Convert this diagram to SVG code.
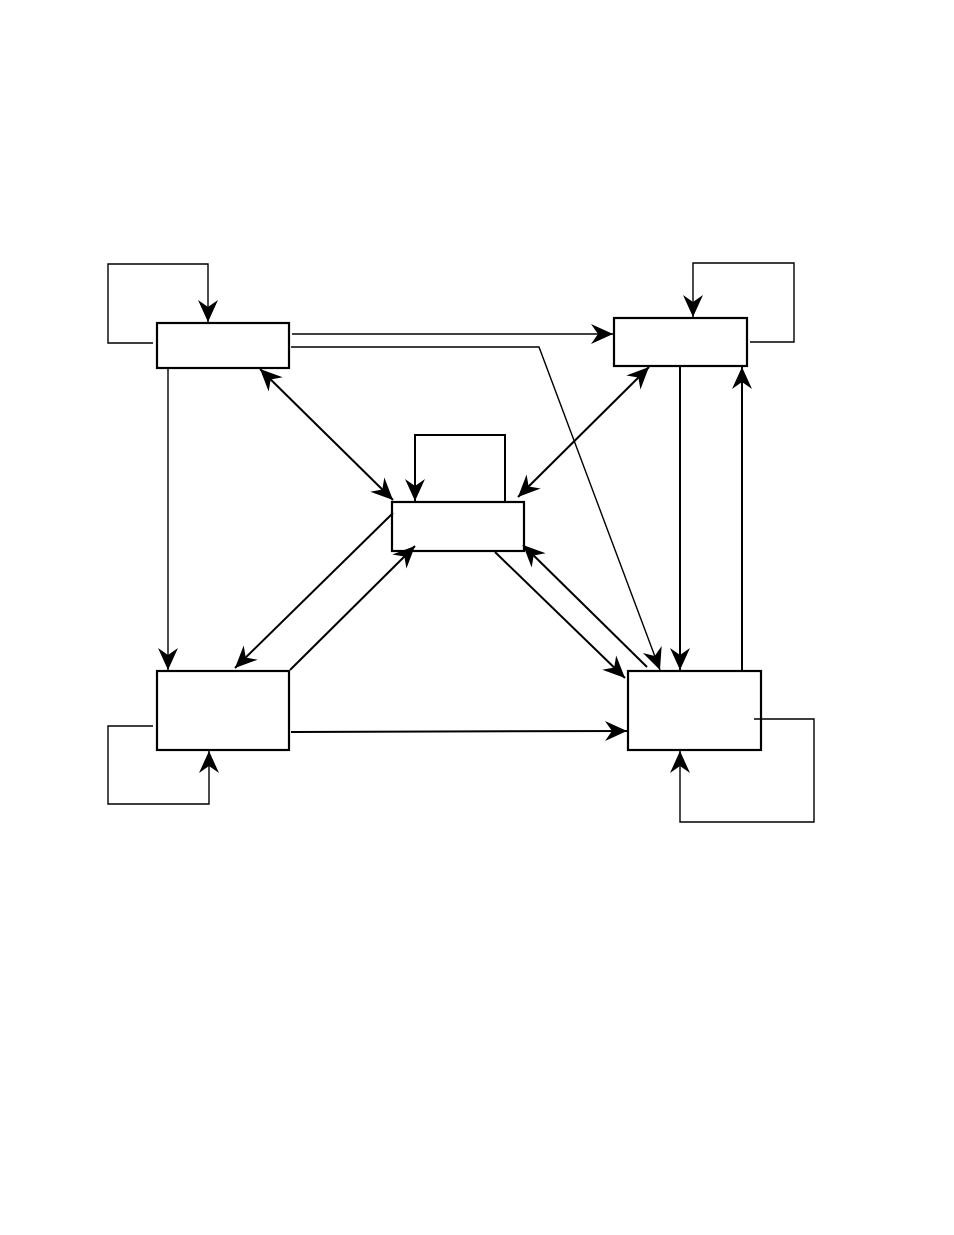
<svg xmlns="http://www.w3.org/2000/svg" width="954" height="1235" viewBox="0 0 954 1235">
<defs>
<marker id="ah" viewBox="-23 -11 24 22" refX="0" refY="0" markerWidth="24" markerHeight="22" markerUnits="userSpaceOnUse" orient="auto-start-reverse">
<path d="M0,0 L-22,-10 L-15,0 L-22,10 Z" fill="#000"/>
</marker>
<style>
.box{fill:#fff;stroke:#000;stroke-width:2.2}
.c{fill:none;stroke:#000;stroke-width:2}
.t{fill:none;stroke:#000;stroke-width:1.4}
.a{marker-end:url(#ah)}
.d{marker-start:url(#ah);marker-end:url(#ah)}
</style>
</defs>
<rect width="954" height="1235" fill="#fff"/>
<g id="nodeA"><rect class="box" x="157" y="323" width="132" height="45"/></g>
<g id="nodeB"><rect class="box" x="614" y="318" width="133" height="48"/></g>
<g id="nodeC"><rect class="box" x="392" y="502" width="132" height="49"/></g>
<g id="nodeD"><rect class="box" x="157" y="671" width="132" height="79"/></g>
<g id="nodeE"><rect class="box" x="628" y="671" width="133" height="79"/></g>
<g id="connectors">
<path class="t a" d="M153,343 H108 V264 H208 V322"/>
<path class="t a" d="M750,342 H794 V263 H693 V317"/>
<path class="c a" d="M505,501 V435 H415 V501"/>
<path class="t a" d="M153,726 H108 V804 H209 V751"/>
<path class="t a" d="M754,719 H814 V822 H680 V751"/>
<path class="t a" d="M292,334 H613"/>
<path class="t a" d="M291,347 H539 L660,670"/>
<path class="c d" d="M260,369 L393,500"/>
<path class="c d" d="M649,367 L518,497"/>
<path class="t a" d="M168,369 V670"/>
<path class="c a" d="M680,367 V670"/>
<path class="c a" d="M742,670 V367"/>
<path class="c a" d="M393,513 L235,668"/>
<path class="c a" d="M290,670 L415,546"/>
<path class="c a" d="M495,552 L625,678"/>
<path class="c a" d="M647,667 L523,545"/>
<path class="c a" d="M291,732 L627,731"/>
</g>
</svg>
